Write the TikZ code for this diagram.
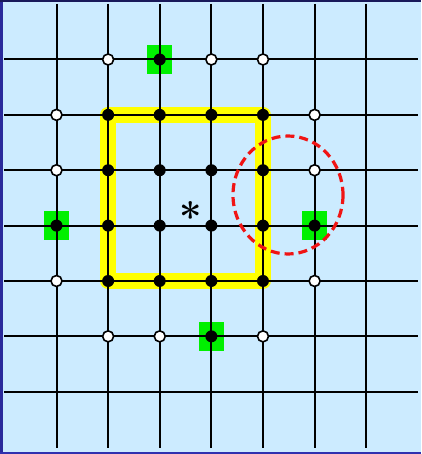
\documentclass[tikz,border=0pt]{standalone}
\definecolor{bg}{RGB}{204,235,255}
\definecolor{leftb}{RGB}{42,42,155}
\definecolor{topb}{RGB}{25,25,90}
\definecolor{botb}{RGB}{48,48,175}
\definecolor{lime}{RGB}{0,240,0}
\definecolor{yel}{RGB}{255,255,0}
\definecolor{redd}{RGB}{240,20,20}
\tikzset{
  gridline/.style={black, line width=2pt},
  fulldot/.style={circle, fill=black, inner sep=0pt, minimum size=12pt},
  opendot/.style={circle, fill=white, draw=black, line width=1.6pt, inner sep=0pt, minimum size=11pt},
  greensq/.style={rectangle, fill=lime, inner sep=0pt, minimum width=25pt, minimum height=29pt},
  frame/.style={yel, line width=16pt, line join=round},
  zone/.style={redd, line width=3.2pt, dash pattern=on 9pt off 5pt}
}
\begin{document}
\begin{tikzpicture}[x=1pt,y=-1pt]
\useasboundingbox (0,0) rectangle (421,454);
\fill[bg] (0,0) rectangle (421,454);
\fill[leftb] (0,0) rectangle (3,454);
\fill[topb] (0,0) rectangle (421,2);
\fill[botb] (0,452) rectangle (421,454);
% grid points
\foreach \c in {0,...,6}{
  \foreach \r in {0,...,6}{
    \coordinate (p\c\r) at ({56.5+51.62*\c},{59.5+55.37*\r});
  }
  \coordinate (t\c) at ({56.5+51.62*\c},4);
  \coordinate (b\c) at ({56.5+51.62*\c},448);
  \coordinate (l\c) at (4,{59.5+55.37*\c});
  \coordinate (r\c) at (418,{59.5+55.37*\c});
}
% yellow frame
\draw[frame] (p11) rectangle (p44);
% green squares
\node[greensq] (g20) at (p20) {};
\node[greensq] (g03) at (p03) {};
\node[greensq] (g53) at (p53) {};
\node[greensq] (g35) at (p35) {};
% grid lines
\foreach \c in {0,...,6}{
  \draw[gridline] (t\c) -- (b\c);
  \draw[gridline] (l\c) -- (r\c);
}
% red dashed zone
\draw[zone] (288,195) ellipse [x radius=55, y radius=59];
% filled dots
\foreach \c/\r in {2/0,1/1,2/1,3/1,4/1,1/2,2/2,3/2,4/2,0/3,1/3,2/3,3/3,4/3,5/3,1/4,2/4,3/4,4/4,3/5}{
  \node[fulldot] (d\c\r) at (p\c\r) {};
}
% open dots
\foreach \c/\r in {1/0,3/0,4/0,0/1,5/1,0/2,5/2,0/4,5/4,1/5,2/5,4/5}{
  \node[opendot] (o\c\r) at (p\c\r) {};
}
% asterisk
\node[font=\fontsize{40}{40}\selectfont\bfseries, inner sep=0pt] (star) at (191,216) {*};
\end{tikzpicture}
\end{document}
